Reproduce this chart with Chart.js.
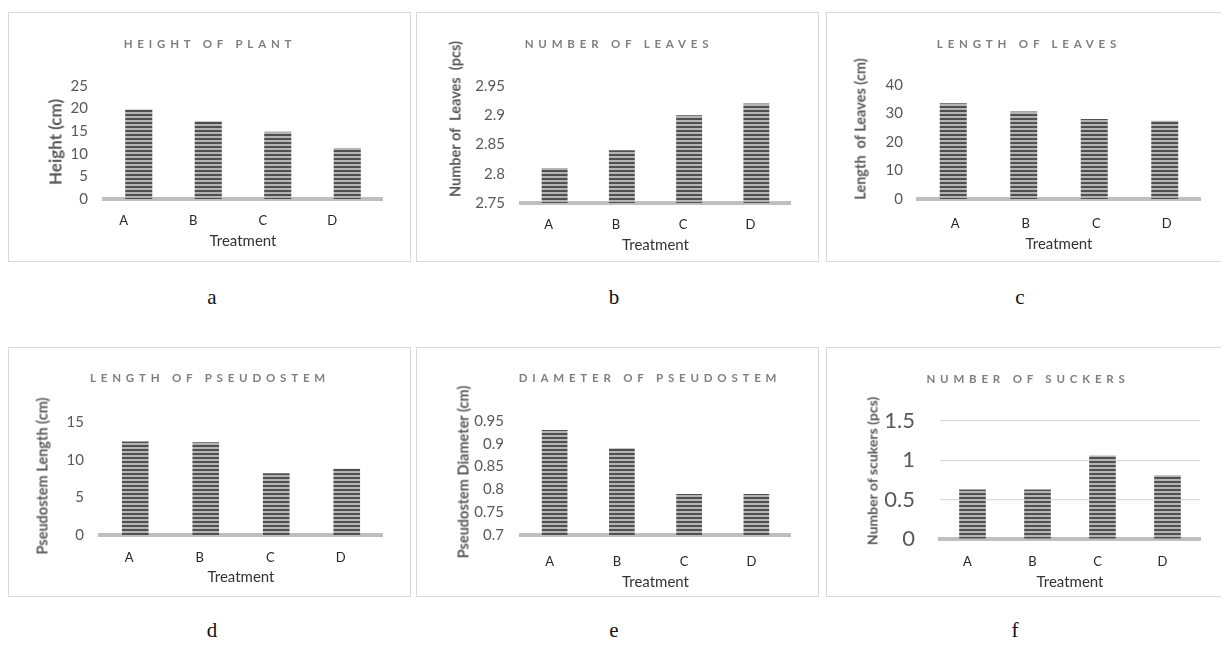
<!DOCTYPE html>
<html>
<head>
<meta charset="utf-8">
<script src="https://cdn.jsdelivr.net/npm/chart.js@4"></script>
<style>
  html, body { margin: 0; padding: 0; background: #fff; }
  body { width: 1221px; height: 665px; overflow: hidden; position: relative; font-family: Lato, "Open Sans", sans-serif; }
  .frame { position: absolute; border: 1px solid #d9d9d9; box-sizing: border-box; }
  .holder { position: absolute; }
  .ptitle { position: absolute; transform: translate(-50%, -50%); font: bold 11.5px Lato, sans-serif; letter-spacing: 4.8px; color: #7f7f7f; white-space: nowrap; }
  .ytitle { position: absolute; transform: translate(-50%, -50%) rotate(-90deg); font-family: Lato, sans-serif; font-weight: bold; color: #595959; white-space: pre; }
  .cap { position: absolute; transform: translate(-50%, -50%); font: 21px "Liberation Serif", serif; color: #111; }
</style>
</head>
<body>
<script>
// Treatments and measured values
const treatments = ['A', 'B', 'C', 'D'];
const plantHeight = [19.8, 17.2, 14.9, 11.3];
const leafCount = [2.81, 2.84, 2.90, 2.92];
const leafLength = [33.6, 30.7, 28.1, 27.5];
const pseudostemLength = [12.4, 12.3, 8.2, 8.8];
const pseudostemDiameter = [0.93, 0.89, 0.79, 0.79];
const suckerCount = [0.63, 0.63, 1.06, 0.81];

// Value-axis tick labels for each panel
const heightTicks = [0, 5, 10, 15, 20, 25];
const leafCountTicks = [2.75, 2.8, 2.85, 2.9, 2.95];
const leafLengthTicks = [0, 10, 20, 30, 40];
const stemLengthTicks = [0, 5, 10, 15];
const stemDiameterTicks = [0.7, 0.75, 0.8, 0.85, 0.9, 0.95];
const suckerTicks = [0, 0.5, 1, 1.5];

const xTitle = 'Treatment';

// Panel layout: frame origin, plot area inside the frame, label placement
const PANEL_W = 403, PANEL_H = 250;
const panels = [
  { caption: 'a', title: 'HEIGHT OF PLANT', yLabel: 'Height (cm)', values: plantHeight, ticks: heightTicks,
    x: 8, y: 12, area: { left: 96, right: 374, top: 74, bottom: 187 }, tickRight: 80, tickSize: 15,
    yt: { x: 55, y: 141.5, size: 17 }, tt: { x: 208, y: 43 }, labOff: -15, labDy: 22, trtDy: 42,
    cap: { x: 212, y: 297 }, bar: 0.39 },
  { caption: 'b', title: 'NUMBER OF LEAVES', yLabel: 'Number of  Leaves  (pcs)', values: leafCount, ticks: leafCountTicks,
    x: 416, y: 12, area: { left: 105, right: 374, top: 74, bottom: 191 }, tickRight: 89, tickSize: 15,
    yt: { x: 455, y: 119, size: 14.5 }, tt: { x: 617, y: 43 }, labOff: -6, labDy: 22, trtDy: 42,
    cap: { x: 614, y: 297 }, bar: 0.386 },
  { caption: 'c', title: 'LENGTH OF LEAVES', yLabel: 'Length  of Leaves (cm)', values: leafLength, ticks: leafLengthTicks,
    x: 826, y: 12, area: { left: 92, right: 374, top: 73, bottom: 187 }, tickRight: 77, tickSize: 15,
    yt: { x: 860, y: 128.5, size: 14.5 }, tt: { x: 1027, y: 43 }, labOff: 2, labDy: 25, trtDy: 45,
    cap: { x: 1020, y: 297 }, bar: 0.383 },
  { caption: 'd', title: 'LENGTH OF PSEUDOSTEM', yLabel: 'Pseudostem Length (cm)', values: pseudostemLength, ticks: stemLengthTicks,
    x: 8, y: 347, area: { left: 92, right: 374, top: 75, bottom: 188 }, tickRight: 76, tickSize: 15,
    yt: { x: 42, y: 476, size: 14.5 }, tt: { x: 208, y: 377 }, labOff: -6, labDy: 23, trtDy: 42,
    cap: { x: 212, y: 630 }, bar: 0.378 },
  { caption: 'e', title: 'DIAMETER OF PSEUDOSTEM', yLabel: 'Pseudostem Diameter (cm)', values: pseudostemDiameter, ticks: stemDiameterTicks,
    x: 416, y: 347, area: { left: 105, right: 374, top: 74, bottom: 188 }, tickRight: 88, tickSize: 15,
    yt: { x: 463, y: 472, size: 14.5 }, tt: { x: 648, y: 377 }, labOff: -5, labDy: 27, trtDy: 47,
    cap: { x: 614, y: 630 }, bar: 0.382 },
  { caption: 'f', title: 'NUMBER OF SUCKERS', yLabel: 'Number of scukers (pcs)', values: suckerCount, ticks: suckerTicks,
    x: 826, y: 347, area: { left: 114, right: 374, top: 74, bottom: 192 }, tickRight: 89, tickSize: 22, grid: true,
    yt: { x: 872, y: 471, size: 14 }, tt: { x: 1026, y: 378 }, labOff: -5, labDy: 23, trtDy: 43,
    cap: { x: 1015, y: 630 }, bar: 0.41 }
];

// Horizontal pinstripe fill used by every bar
function stripeFill() {
  const c = document.createElement('canvas');
  c.width = 8; c.height = 4;
  const g = c.getContext('2d');
  g.fillStyle = '#b4b4b4'; g.fillRect(0, 0, 8, 4);
  g.fillStyle = '#505050'; g.fillRect(0, 2, 8, 2);
  return g.createPattern(c, 'repeat');
}
const stripes = stripeFill();

// Tick text without padded decimals (2.8, 2.85, 0.7 ...)
const plainNumber = v => String(Math.round(v * 1000) / 1000);

function addDiv(cls, text, x, y, extra) {
  const d = document.createElement('div');
  d.className = cls;
  d.textContent = text;
  d.style.left = x + 'px';
  d.style.top = y + 'px';
  if (extra) Object.assign(d.style, extra);
  document.body.appendChild(d);
  return d;
}

panels.forEach(p => {
  const frame = document.createElement('div');
  frame.className = 'frame';
  Object.assign(frame.style, { left: p.x + 'px', top: p.y + 'px', width: PANEL_W + 'px', height: PANEL_H + 'px' });
  document.body.appendChild(frame);

  const holder = document.createElement('div');
  holder.className = 'holder';
  Object.assign(holder.style, { left: p.x + 'px', top: p.y + 'px', width: PANEL_W + 'px', height: PANEL_H + 'px' });
  const canvas = document.createElement('canvas');
  canvas.width = PANEL_W; canvas.height = PANEL_H;
  holder.appendChild(canvas);
  document.body.appendChild(holder);

  const a = p.area;
  const trtFont = 15, trtLine = trtFont * 1.2;
  const labFont = 13, labLine = labFont * 1.2;

  new Chart(canvas, {
    type: 'bar',
    data: {
      labels: treatments,
      datasets: [{
        data: p.values,
        backgroundColor: stripes,
        borderWidth: 0,
        barPercentage: p.bar,
        categoryPercentage: 1
      }]
    },
    options: {
      responsive: false,
      animation: false,
      events: [],
      layout: { padding: { left: 0, right: PANEL_W - a.right, top: a.top, bottom: 0 } },
      plugins: { legend: { display: false }, tooltip: { enabled: false }, title: { display: false } },
      scales: {
        x: {
          z: 1,
          grid: { display: false, drawTicks: false },
          border: { display: true, color: '#bfbfbf', width: 4 },
          ticks: {
            padding: p.labDy - labLine / 2,
            labelOffset: p.labOff,
            color: '#262626',
            font: { family: 'Lato', size: labFont }
          },
          title: {
            display: true, text: xTitle, color: '#333333',
            font: { family: 'Lato', size: trtFont },
            padding: { top: 0, bottom: PANEL_H - trtLine / 2 - (a.bottom + p.trtDy) }
          },
          afterFit: s => { s.height = PANEL_H - a.bottom; }
        },
        y: {
          min: p.ticks[0],
          max: p.ticks[p.ticks.length - 1],
          afterBuildTicks: s => { s.ticks = p.ticks.map(v => ({ value: v })); },
          grid: { display: !!p.grid, color: '#d9d9d9', lineWidth: 1.2, drawTicks: false },
          border: { display: false },
          ticks: {
            padding: a.left - p.tickRight,
            color: '#595959',
            font: { family: 'Lato', size: p.tickSize },
            autoSkip: false,
            callback: plainNumber
          },
          afterFit: s => { s.width = a.left; }
        }
      }
    }
  });

  addDiv('ptitle', p.title, p.tt.x + 2, p.tt.y);
  addDiv('ytitle', p.yLabel, p.yt.x, p.yt.y, { fontSize: p.yt.size + 'px' });
  addDiv('cap', p.caption, p.cap.x, p.cap.y);
});
</script>
</body>
</html>
